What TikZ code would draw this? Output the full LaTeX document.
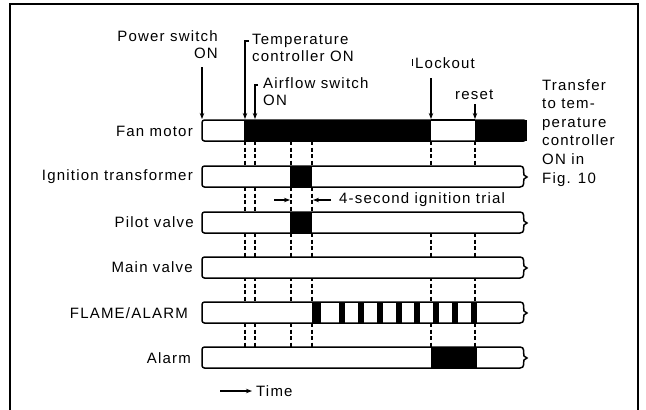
\documentclass[tikz,border=0pt]{standalone}
\usepackage{fontspec}
\setmainfont[LetterSpace=8]{Liberation Sans}
\usetikzlibrary{arrows.meta}

\tikzset{
  bar/.style={draw,line width=1.5pt,fill=white},
  gap/.style={line width=1.1pt,dash pattern=on 4pt off 2.5pt},
  tip/.style={line width=1.1pt,-{Stealth[length=6pt,width=4.5pt]}},
  sig/.style={anchor=east,inner sep=0pt,font=\fontsize{15}{17}\selectfont},
  note/.style={inner sep=0pt,font=\fontsize{15}{17}\selectfont}
}
% bar with a torn right end, top edge at #1
\newcommand{\tornbar}[1]{%
  \draw[bar] (520,#1) [rounded corners=2.5pt] -- (202,#1) -- (202,#1+21) [sharp corners] -- (520,#1+21)
    .. controls (525,#1+21) and (523,#1+16) .. (524,#1+13) -- (527,#1+11) -- (524,#1+9)
    .. controls (523,#1+5) and (525,#1) .. (520,#1) -- cycle;}

\begin{document}
\begin{tikzpicture}[x=1pt,y=-1pt]
  \useasboundingbox (0,0) rectangle (646,410);
  % frame
  \draw[line width=1.3pt] (10,415) -- (10,4) -- (638,4) -- (638,415);

  % signal names
  \node[sig] (fan) at (193,131) {Fan motor};
  \node[sig] (ign) at (193,177) {Ignition transformer};
  \node[sig] (pil) at (194,222) {Pilot valve};
  \node[sig] (mai) at (193,267) {Main valve};
  \node[sig] (fla) at (188,313) {FLAME/ALARM};
  \node[sig] (alm) at (191,358) {Alarm};

  % dashed time marks
  \foreach \a/\b in {141/166,233/257,277/302,323/347}
    \foreach \x in {245,255,291,312,431,475}
      \draw[gap] (\x,\a) -- (\x,\b);
  \foreach \x in {245,255,291,312}
    \draw[gap] (\x,187) -- (\x,212);

  % Fan motor
  \draw[bar,rounded corners=2.5pt] (202,120) rectangle (526,141);
  \fill (244,120) rectangle (431,141);
  \fill (475,120) rectangle (526.7,141);
  \draw[line width=1.5pt] (431,120) -- (475,120);

  % Ignition transformer
  \tornbar{166}
  \fill (290,166) rectangle (312,187);
  % Pilot valve
  \tornbar{212}
  \fill (290,212) rectangle (312,233);
  % Main valve
  \tornbar{257}
  % FLAME/ALARM
  \tornbar{302}
  \fill (312,302) rectangle (321,323);
  \foreach \i in {0,...,7}
    \fill ({339+18.86*\i},302) rectangle +(6,21);
  % Alarm
  \tornbar{347}
  \fill (431,347) rectangle (477,368);

  % events at top
  \node[note,anchor=east,align=right] (pwr) at (218,45) {Power switch\\ON};
  \node[note,anchor=west,align=left] (tmp) at (252,48) {Temperature\\controller ON};
  \node[note,anchor=west,align=left] (air) at (263,92) {Airflow switch\\ON};
  \node[note,anchor=west] (lck) at (415,63) {Lockout};
  \node[note,anchor=west] (rst) at (455,95) {reset};
  \node[note,anchor=north west,align=left,font=\fontsize{15}{18.6}\selectfont]
    (trf) at (542,79) {Transfer\\to tem-\\perature\\controller\\ON in\\Fig. 10};

  \coordinate (aPwr) at (202,119);
  \coordinate (aTmp) at (245,119);
  \coordinate (aAir) at (255,119);
  \coordinate (aLck) at (431,119);
  \coordinate (aRst) at (475,119);
  \draw[tip] (202,67) -- (aPwr);
  \draw[tip] (249,41) -- (245,41) -- (aTmp);
  \draw[tip] (258,85) -- (255,85) -- (aAir);
  \draw[tip] (431,78) -- (aLck);
  \draw[tip] (475,104) -- (aRst);
  \draw[line width=1pt] (412,59) -- (412,66);

  % ignition trial
  \coordinate (zL) at (290,200);
  \coordinate (zR) at (313,200);
  \draw[tip] (274,200) -- (zL);
  \draw[tip] (331,200) -- (zR);
  \node[note,anchor=west] (ztx) at (339,200) {4-second ignition trial};

  % time axis
  \coordinate (t0) at (220,391);
  \coordinate (t1) at (252,391);
  \draw[tip] (t0) -- (t1);
  \node[note,anchor=west] (tim) at (256,391) {Time};
\end{tikzpicture}
\end{document}
